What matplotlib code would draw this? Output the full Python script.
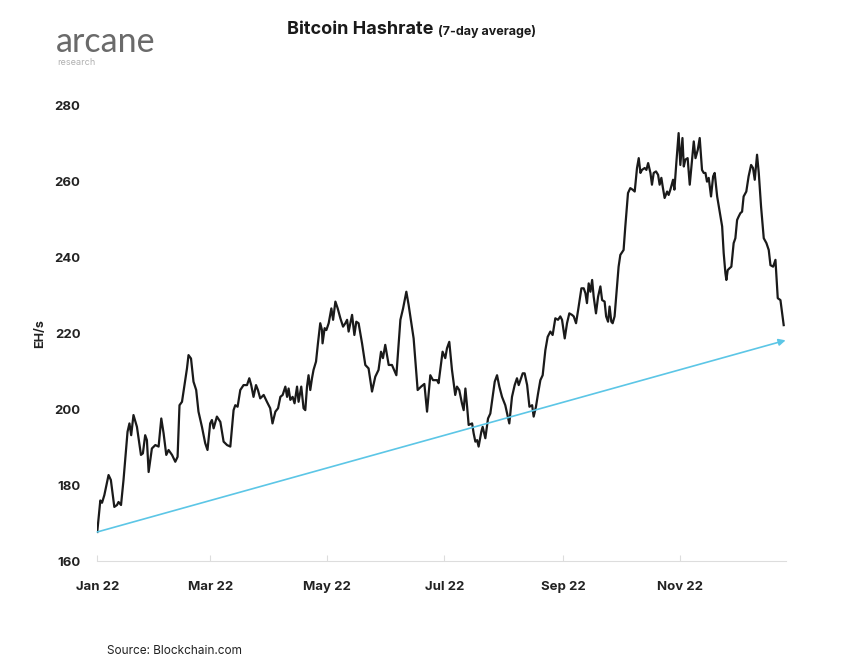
import numpy as np
import pandas as pd
import matplotlib
matplotlib.use('Agg')
import matplotlib.pyplot as plt
import matplotlib.dates as mdates

# day offsets from 2022-01-01 and 7-day avg hashrate (EH/s)
days = [0, 1.6, 2.5, 3.7, 5.9, 7.1, 8.9, 10.3, 11.1, 12.4,
        13.7, 15.8, 16.8, 17.7, 18.9, 20.7, 22.8, 23.8, 25, 25.9,
        26.8, 28.5, 30.3, 32, 33.4, 34.6, 36, 37.2, 39, 40.7,
        41.9, 42.9, 44.2, 46.8, 47.6, 48.9, 50.2, 51.6, 52.8, 54.6,
        56.3, 57.5, 58.9, 59.8, 60.7, 62.4, 64.2, 65.9, 67.7, 69.4,
        71.1, 72, 73.2, 74.6, 76.3, 78.1, 79.3, 80.3, 81.5, 82.8,
        83.8, 85, 86.8, 88.5, 90.2, 91.4, 92.9, 94.3, 95.5, 96.7,
        98.1, 99, 99.8, 100.7, 101.9, 102.9, 104.2, 105, 106.4, 107.6,
        108.5, 109.4, 110.2, 111.1, 112, 112.8, 114.1, 115.1, 116.3, 117.2,
        117.5, 118.6, 119.5, 120.7, 122.1, 123, 124.2, 125.4, 126.8, 128.2,
        129.4, 130.3, 131.1, 132.9, 134.1, 135.1, 136.3, 138.1, 139.8, 141.5,
        143.3, 145, 146.7, 148, 149, 150.2, 152, 153.7, 156, 158.1,
        159.5, 161.2, 162.4, 165, 167.1, 168.9, 170.6, 172, 173.7, 175.1,
        177.2, 178, 178.9, 180.1, 181.5, 182.4, 183.6, 185, 186.7, 187.6,
        188.8, 190.2, 191.1, 192, 192.9, 193.7, 195.5, 196.3, 197.2, 198.1,
        198.9, 200.3, 201, 202.4, 203.8, 205, 206.2, 207.3, 208.5, 209.7,
        211.1, 212.8, 214.9, 216.3, 217.7, 218.9, 219.8, 221.9, 222.9, 224.2,
        225.4, 226.8, 227.6, 228.8, 229.9, 231.1, 232.3, 233.7, 234.9, 236.3,
        237.5, 238.9, 240.3, 241.5, 242.4, 243.8, 245, 246.2, 247.6, 248.5,
        249.7, 250.8, 252.5, 253.7, 254.6, 255.4, 256.3, 257.2, 258.1, 258.9,
        260.1, 261.2, 262.4, 263.3, 264.6, 265.4, 266.4, 267.2, 268.1, 268.8,
        269.8, 271.1, 271.9, 272.8, 274.5, 275.4, 276.8, 278, 279.2, 280.3,
        281.5, 282.4, 283.3, 284.1, 285.5, 286.4, 287.3, 288.5, 289.3, 290.2,
        291.4, 292.5, 293.3, 294.2, 294.9, 295.9, 297.2, 298, 298.9, 300.3,
        301, 302, 303.2, 304.1, 305.2, 305.9, 306.7, 307.9, 309, 309.9,
        311.1, 312, 313.2, 314.2, 315.4, 316.3, 317.2, 318, 318.9, 320.1,
        321.2, 322, 323.3, 324.6, 325.9, 326.7, 327.6, 328.1, 328.8, 329.8,
        330.7, 331.9, 332.8, 333.7, 334.5, 335.4, 336.3, 337.1, 338.5, 339.7,
        341, 342, 342.9, 344.1, 345, 346.2, 347.6, 349, 350.2, 351.1,
        352.5, 353.7, 354.9, 356.3, 358]
hashrate = [167.7, 176, 175.4, 177.4, 182.7, 181.4, 174.3, 174.8, 175.6, 174.8,
            181.4, 194.1, 196.3, 193.2, 198.5, 195.4, 188, 188.4, 193.2, 191.9,
            183.5, 189.7, 190.6, 190.2, 197.6, 193.7, 188, 189.3, 188, 186.2,
            187.5, 201.1, 202, 210.8, 214.3, 213.4, 207.3, 205.1, 199.4, 195.4,
            191.1, 189.3, 196.3, 197.2, 195, 198.1, 196.7, 191.5, 190.6, 190.2,
            199.8, 201.1, 200.7, 205.1, 206.4, 206.4, 208.2, 206.4, 203.3, 206.4,
            205.1, 202.9, 203.8, 202, 200.3, 196.3, 199.4, 200.3, 203.3, 203.8,
            206, 203.3, 205.5, 202.5, 203.3, 201.6, 206, 202, 206, 200.3,
            199.8, 206, 209, 205.1, 208.2, 210.4, 212.6, 217.4, 222.7, 220.9,
            217.4, 221.4, 220.9, 222.7, 226.6, 223.6, 228.4, 226.6, 224, 221.8,
            222.7, 223.6, 220.5, 224.9, 219.6, 223.1, 222.7, 217.4, 211.7, 210.8,
            204.7, 208.6, 210.4, 215.2, 213.5, 217, 211.7, 211.7, 209, 223.6,
            226.6, 231, 227.5, 218.7, 205.1, 206, 206.7, 199.4, 209, 207.7,
            207.7, 206.9, 210.4, 215.2, 213.5, 216.1, 217.8, 210.4, 203.8, 206,
            205.1, 201.6, 199.8, 205.5, 200.7, 195.9, 196.3, 193.7, 191.5, 191.9,
            190.2, 194.1, 195.4, 192.4, 197.6, 198.9, 203.3, 207.3, 209, 206,
            203.3, 201.1, 196.3, 203.3, 206.4, 208.2, 206.4, 209.5, 209.5, 206.4,
            200.7, 201.1, 198.1, 200.7, 204.2, 207.7, 209, 215.6, 219.1, 220.5,
            219.6, 224, 223.6, 224.5, 223.6, 218.7, 222.7, 225.3, 224.9, 224.5,
            222.7, 226.2, 231.9, 231.9, 230.6, 228, 233.2, 231, 234.1, 229.7,
            225.3, 229.7, 232.4, 228.8, 228.4, 224.5, 223.1, 227.1, 223.1, 222.7,
            224.5, 232.4, 237.6, 240.7, 242, 248.2, 257, 258.3, 257.9, 257.4,
            263.6, 266.2, 262.3, 263.1, 263.6, 263.1, 264.9, 262.3, 259.2, 262.3,
            262.7, 261.8, 259.2, 261, 258.7, 255.7, 257.4, 256.5, 257.9, 260.5,
            257.9, 264.9, 272.8, 264.4, 271.5, 264, 265.8, 266.2, 259.2, 264,
            270.6, 266.2, 268.4, 271.5, 263.1, 262.3, 262.3, 260, 261, 256.1,
            261.4, 262.3, 256.1, 252.1, 248.2, 241.2, 235.9, 234.1, 236.7, 237.2,
            237.6, 243.8, 245.1, 249.9, 250.8, 251.7, 252.1, 256.1, 257.4, 261.4,
            264.4, 263.6, 260.5, 267.1, 262.3, 253.4, 245.1, 243.8, 242, 238,
            237.6, 239.4, 229.3, 228.8, 222.2]

trend_days = [0, 359]
trend_vals = [167.7, 218.2]

start = pd.Timestamp('2022-01-01')
dates = start + pd.to_timedelta(days, unit='D')
tdates = start + pd.to_timedelta(trend_days, unit='D')

plt.rcParams['font.family'] = ['Inter', 'DejaVu Sans']

fig = plt.figure(figsize=(8.53, 6.61), dpi=100)
ax = fig.add_axes([0.114, 0.151, 0.807, 0.689])

ax.plot(dates, hashrate, color='#1a1a1a', linewidth=1.6)
ax.annotate('', xy=(tdates[1], trend_vals[1]), xytext=(tdates[0], trend_vals[0]),
            arrowprops=dict(arrowstyle='-|>', color='#5cc6e6', lw=1.2,
                            mutation_scale=10, shrinkA=0, shrinkB=0))

ax.set_xlim(start, start + pd.Timedelta(days=359))
ax.set_ylim(160, 280)
ax.set_yticks([160, 180, 200, 220, 240, 260, 280])
ax.xaxis.set_major_locator(mdates.MonthLocator(bymonth=[1, 3, 5, 7, 9, 11]))
ax.xaxis.set_major_formatter(mdates.DateFormatter('%b %y'))

for s in ['top', 'right', 'left']:
    ax.spines[s].set_visible(False)
ax.spines['bottom'].set_color('#dddddd')
ax.tick_params(axis='y', length=0, pad=12, labelsize=9.5, labelcolor='#222222')
ax.tick_params(axis='x', direction='in', length=4, color='#dddddd', pad=14,
               labelsize=9.5, labelcolor='#222222')
for lab in ax.get_xticklabels() + ax.get_yticklabels():
    lab.set_fontweight('bold')

ax.set_ylabel('EH/s', fontsize=9, fontweight='bold', color='#222222', labelpad=6)

# title in two parts, second part placed right after the first
t1 = fig.text(0.336, 0.955, 'Bitcoin Hashrate', fontsize=13, fontweight='bold',
              color='#1a1a1a', va='center')
fig.canvas.draw()
bb = t1.get_window_extent()
x2 = (bb.x1 + 5) / fig.bbox.width
fig.text(x2, 0.953, '(7-day average)', fontsize=9, fontweight='bold',
         color='#1a1a1a', va='center')

fig.text(0.066, 0.936, 'arcane', fontsize=24.5, color='#6a6a6a', va='center',
         family=['Lato', 'DejaVu Sans'])
fig.text(0.067, 0.906, 'research', fontsize=6.5, color='#b0b0b0', va='center')

fig.text(0.125, 0.010, 'Source: Blockchain.com', fontsize=8.5, color='#222222')

fig.savefig('out.png', dpi=100, facecolor='white')
